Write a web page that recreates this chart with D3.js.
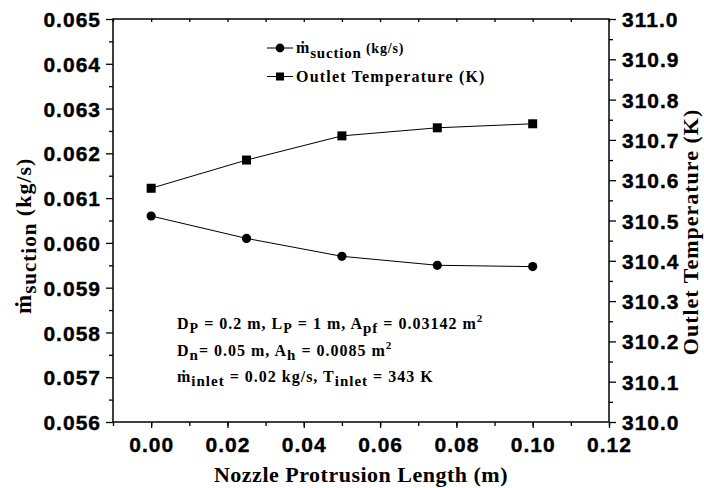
<!DOCTYPE html>
<html>
<head>
<meta charset="utf-8">
<script src="https://cdn.jsdelivr.net/npm/d3@7"></script>
<style>
  body { margin: 0; background: #fff; }
  .tick text { font-family: "Liberation Sans", Arial, sans-serif; font-weight: bold; font-size: 21px; letter-spacing: 1px; fill: #000; stroke: #000; stroke-width: 0.4px; }
  .lbl { font-family: "Liberation Serif", "Times New Roman", serif; font-weight: bold; fill: #000; }
</style>
</head>
<body>
<div id="chart"></div>
<script>
// protrusion length (m)
var lengths = [0, 0.025, 0.05, 0.075, 0.1];
// suction mass flow (kg/s), left axis
var suction = [0.0606, 0.0601, 0.0597, 0.0595, 0.05947];
// outlet temperature (K), right axis
var outletTemp = [310.58, 310.65, 310.71, 310.73, 310.74];

var xTicks = [0, 0.02, 0.04, 0.06, 0.08, 0.10, 0.12];
var yLeftTicks = [0.056, 0.057, 0.058, 0.059, 0.060, 0.061, 0.062, 0.063, 0.064, 0.065];
var yRightTicks = [310.0, 310.1, 310.2, 310.3, 310.4, 310.5, 310.6, 310.7, 310.8, 310.9, 311.0];

var W = 704, H = 488;
var plotL = 113, plotR = 609, plotT = 19, plotB = 422;

var svg = d3.select("#chart").append("svg")
  .attr("width", W)
  .attr("height", H);

var x = d3.scaleLinear().domain([-0.01, 0.12]).range([plotL, plotR]);
var yL = d3.scaleLinear().domain([0.056, 0.065]).range([plotB, plotT]);
var yR = d3.scaleLinear().domain([310.0, 311.0]).range([plotB, plotT]);

// minor ticks
var xMinor = d3.range(-0.01, 0.1201, 0.01);
var yLMinor = d3.range(0.0565, 0.065, 0.001);
var yRMinor = d3.range(310.05, 311.0, 0.1);

function styleAxis(g) {
  g.select(".domain").remove();
  g.selectAll(".tick line").attr("stroke", "#000").attr("stroke-width", 1.3);
}

// bottom axis
svg.append("g")
  .attr("transform", "translate(0," + plotB + ")")
  .call(d3.axisBottom(x).tickValues(xMinor).tickSize(4).tickFormat(""))
  .call(styleAxis);
svg.append("g")
  .attr("transform", "translate(0," + plotB + ")")
  .call(d3.axisBottom(x).tickValues(xTicks).tickSize(6).tickPadding(9).tickFormat(d3.format(".2f")))
  .call(styleAxis);

// top axis (ticks inward, no labels)
svg.append("g")
  .attr("transform", "translate(0," + plotT + ")")
  .call(d3.axisBottom(x).tickValues(xMinor).tickSize(3).tickFormat(""))
  .call(styleAxis);

// left axis
svg.append("g")
  .attr("transform", "translate(" + plotL + ",0)")
  .call(d3.axisLeft(yL).tickValues(yLMinor).tickSize(4).tickFormat(""))
  .call(styleAxis);
svg.append("g")
  .attr("transform", "translate(" + plotL + ",0)")
  .call(d3.axisLeft(yL).tickValues(yLeftTicks).tickSize(7).tickPadding(5).tickFormat(d3.format(".3f")))
  .call(styleAxis)
  .selectAll(".tick text").attr("dy", "0.36em");

// right axis
svg.append("g")
  .attr("transform", "translate(" + plotR + ",0)")
  .call(d3.axisRight(yR).tickValues(yRMinor).tickSize(4).tickFormat(""))
  .call(styleAxis);
svg.append("g")
  .attr("transform", "translate(" + plotR + ",0)")
  .call(d3.axisRight(yR).tickValues(yRightTicks).tickSize(7).tickPadding(6).tickFormat(d3.format(".1f")))
  .call(styleAxis)
  .selectAll(".tick text").attr("dy", "0.36em");

// frame
svg.append("rect")
  .attr("x", plotL).attr("y", plotT)
  .attr("width", plotR - plotL).attr("height", plotB - plotT)
  .attr("fill", "none").attr("stroke", "#000").attr("stroke-width", 1.5);

// series
var sucData = lengths.map(function(d, i) { return [d, suction[i]]; });
var tData = lengths.map(function(d, i) { return [d, outletTemp[i]]; });

svg.append("path")
  .attr("d", d3.line().x(function(d) { return x(d[0]); }).y(function(d) { return yL(d[1]); })(sucData))
  .attr("fill", "none").attr("stroke", "#000").attr("stroke-width", 1);
svg.append("path")
  .attr("d", d3.line().x(function(d) { return x(d[0]); }).y(function(d) { return yR(d[1]); })(tData))
  .attr("fill", "none").attr("stroke", "#000").attr("stroke-width", 1);

svg.selectAll(".pt-s").data(sucData).enter().append("circle")
  .attr("cx", function(d) { return x(d[0]); })
  .attr("cy", function(d) { return yL(d[1]); })
  .attr("r", 4.6).attr("fill", "#000");

svg.selectAll(".pt-t").data(tData).enter().append("rect")
  .attr("x", function(d) { return x(d[0]) - 4.5; })
  .attr("y", function(d) { return yR(d[1]) - 4.5; })
  .attr("width", 9).attr("height", 9).attr("fill", "#000");

// rich text helper: parts = [[text, kind, size]]
function rich(t, parts, base, subShift, supShift) {
  var off = 0;
  parts.forEach(function(p) {
    var target = p[1] === "sub" ? subShift : (p[1] === "sup" ? -supShift : 0);
    t.append("tspan")
      .attr("dy", target - off)
      .style("font-size", (p[2] || base) + "px")
      .text(p[0]);
    off = target;
  });
  return t;
}

// legend
svg.append("line").attr("x1", 267).attr("x2", 293).attr("y1", 48).attr("y2", 48).attr("stroke", "#000");
svg.append("circle").attr("cx", 280).attr("cy", 48).attr("r", 4.4).attr("fill", "#000");
svg.append("line").attr("x1", 267).attr("x2", 293).attr("y1", 76.5).attr("y2", 76.5).attr("stroke", "#000");
svg.append("rect").attr("x", 276).attr("y", 72.5).attr("width", 8).attr("height", 8).attr("fill", "#000");

rich(svg.append("text").attr("class", "lbl").attr("x", 296).attr("y", 53).style("letter-spacing", "0.8px"),
  [["ṁ", "n", 16], ["suction", "sub", 15], [" (kg/s)", "n", 14]], 16, 5, 0);
svg.append("text").attr("class", "lbl").attr("x", 296).attr("y", 82)
  .style("font-size", "16px").style("letter-spacing", "1.2px")
  .text("Outlet Temperature (K)");

// annotation
var ax = 177;
rich(svg.append("text").attr("class", "lbl").attr("x", ax).attr("y", 329).style("letter-spacing", "1px"),
  [["D", "n"], ["P", "sub", 14], [" = 0.2 m, L", "n"], ["P", "sub", 14], [" = 1 m, A", "n"], ["pf", "sub", 15],
   [" = 0.03142 m", "n"], ["2", "sup", 11]], 16, 4, 7);
rich(svg.append("text").attr("class", "lbl").attr("x", ax).attr("y", 356).style("letter-spacing", "1px"),
  [["D", "n"], ["n", "sub", 15], ["= 0.05 m, A", "n"], ["h", "sub", 15], [" = 0.0085 m", "n"], ["2", "sup", 11]], 16, 4, 7);
rich(svg.append("text").attr("class", "lbl").attr("x", ax).attr("y", 382).style("letter-spacing", "1px"),
  [["ṁ", "n"], ["inlet", "sub", 15], [" = 0.02 kg/s, T", "n"], ["inlet", "sub", 15], [" = 343 K", "n"]], 16, 4, 7);

// x axis title
svg.append("text").attr("class", "lbl")
  .attr("x", 361).attr("y", 482)
  .style("text-anchor", "middle").style("font-size", "22px").style("letter-spacing", "0.5px")
  .text("Nozzle Protrusion Length (m)");

// left y title
rich(svg.append("text").attr("class", "lbl")
  .attr("transform", "translate(31,314) rotate(-90)").style("letter-spacing", "1px"),
  [["ṁ", "n", 23], ["suction", "sub", 21], [" (kg/s)", "n", 22]], 22, 5, 0);

// right y title
svg.append("text").attr("class", "lbl")
  .attr("transform", "translate(698,232) rotate(-90)")
  .style("text-anchor", "middle").style("font-size", "22px").style("letter-spacing", "1px")
  .text("Outlet Temperature (K)");
</script>
</body>
</html>
